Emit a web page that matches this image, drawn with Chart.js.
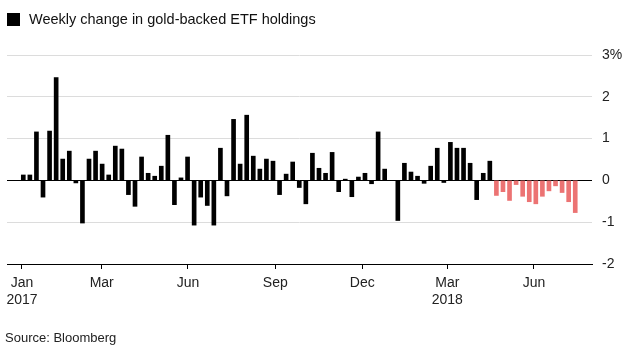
<!DOCTYPE html>
<html>
<head>
<meta charset="utf-8">
<script src="https://cdn.jsdelivr.net/npm/chart.js@4"></script>
<style>
	body { margin: 0; background: #fff; font-family: "Liberation Sans", Arial, sans-serif; }
	#wrap { position: relative; width: 642px; height: 359px; overflow: hidden; }
	#chart { position: absolute; left: 0; top: 0; }
	.legend { position: absolute; left: 7px; top: 11px; font-size: 14.5px; color: #111; white-space: nowrap; }
	.legend i { display: inline-block; width: 13px; height: 13px; background: #000; vertical-align: -2px; margin-right: 9px; }
	.source { position: absolute; left: 5px; top: 330px; font-size: 13px; color: #222; }
</style>
</head>
<body>
<div id="wrap">
	<canvas id="chart" width="642" height="359"></canvas>
	<div class="legend"><i></i>Weekly change in gold-backed ETF holdings</div>
	<div class="source">Source: Bloomberg</div>
</div>
<script>
	'use strict';

	// weekly change, % (weeks counted from first bar)
	const pastValues = [
		0.13, 0.13, 1.16, -0.40, 1.18, 2.46, 0.51, 0.70, -0.06, -1.02,
		0.51, 0.70, 0.39, 0.13, 0.82, 0.75, -0.34, -0.62, 0.56, 0.17,
		0.10, 0.34, 1.08, -0.58, 0.06, 0.56, -1.07, -0.40, -0.60, -1.07,
		0.77, -0.37, 1.46, 0.39, 1.56, 0.58, 0.27, 0.51, 0.46, -0.34,
		0.15, 0.44, -0.17, -0.56, 0.65, 0.29, 0.17, 0.67, -0.27, 0.03,
		-0.39, 0.08, 0.17, -0.08, 1.16, 0.27, 0.00, -0.96, 0.41, 0.20,
		0.10, -0.07, 0.34, 0.77, -0.05, 0.91, 0.77, 0.77, 0.41, -0.46,
		0.17, 0.46
	];
	// latest run of outflows (drawn in red)
	const recentValues = [
		-0.36, -0.27, -0.48, -0.10, -0.38, -0.51, -0.56, -0.38, -0.25, -0.13,
		-0.29, -0.51, -0.77
	];

	// x axis ticks, in weeks from the first bar
	const tickWeeks = [-0.2, 11.93, 25.06, 38.35, 51.59, 64.53, 77.72];
	const tickLabels = [['Jan', '2017'], 'Mar', 'Jun', 'Sep', 'Dec', ['Mar', '2018'], 'Jun'];
	const yTicks = [-2, -1, 0, 1, 2, 3];

	function toPoints(values, offset) {
		return values.map(function(v, i){ return { x: i + offset, y: v }; });
	}

	const fontBase = { family: '"Liberation Sans", Arial, sans-serif', size: 14 };

	new Chart(document.getElementById('chart').getContext('2d'), {
		type: 'bar',
		data: {
			datasets: [{
				data: toPoints(pastValues, 0),
				backgroundColor: '#000',
				barThickness: 4,
				grouped: false
			}, {
				data: toPoints(recentValues, pastValues.length),
				backgroundColor: '#ec7373',
				barThickness: 4,
				grouped: false
			}]
		},
		options: {
			responsive: false,
			devicePixelRatio: 1,
			animation: false,
			layout: { padding: { left: 7, top: 55, right: 0, bottom: 0 } },
			plugins: {
				legend: { display: false },
				tooltip: { enabled: false }
			},
			scales: {
				x: {
					type: 'linear',
					min: -2.48,
					max: 86.55,
					offset: false,
					afterBuildTicks: function(scale){
						scale.ticks = tickWeeks.map(function(v){ return { value: v }; });
					},
					afterFit: function(scale){ scale.height = 95; },
					grid: {
						drawOnChartArea: false,
						drawTicks: true,
						tickLength: 5,
						color: '#000',
						offset: false
					},
					border: { display: true, color: '#000', width: 1 },
					ticks: {
						autoSkip: false,
						maxRotation: 0,
						padding: 5,
						color: '#222',
						font: Object.assign({ lineHeight: 1.25 }, fontBase),
						callback: function(value, index){ return tickLabels[index]; }
					}
				},
				y: {
					position: 'right',
					min: -2,
					max: 3,
					afterBuildTicks: function(scale){
						scale.ticks = yTicks.map(function(v){ return { value: v }; });
					},
					afterFit: function(scale){ scale.width = 50; },
					border: { display: false },
					grid: {
						drawTicks: false,
						lineWidth: 1,
						color: function(ctx){
							const v = ctx.tick && ctx.tick.value;
							return (v === 0 || v === -2) ? '#000' : '#dcdcdc';
						}
					},
					ticks: {
						padding: 10,
						color: '#222',
						font: fontBase,
						callback: function(value){ return value === 3 ? '3%' : String(value); }
					}
				}
			}
		}
	});
</script>
</body>
</html>
